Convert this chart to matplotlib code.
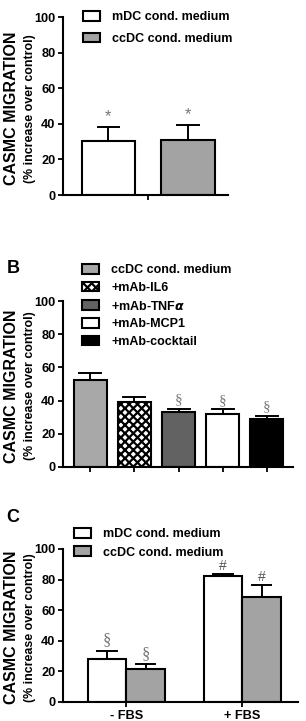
import matplotlib
matplotlib.use("Agg")
import matplotlib.pyplot as plt
from matplotlib.patches import Patch

plt.rcParams['font.family'] = ['Liberation Sans', 'DejaVu Sans']
plt.rcParams['font.weight'] = 'bold'
plt.rcParams['hatch.linewidth'] = 1.6

# panel A
a_labels = ["mDC cond. medium", "ccDC cond. medium"]
a_vals = [30.5, 31.2]
a_err = [8.0, 8.3]
a_colors = ["white", "#a3a3a3"]

# panel B
b_labels = ["ccDC cond. medium", "+mAb-IL6", "+mAb-TNF$\\alpha$", "+mAb-MCP1", "+mAb-cocktail"]
b_vals = [52.7, 39.2, 33.2, 31.8, 29.2]
b_err = [4.0, 3.1, 2.0, 3.0, 1.6]
b_colors = ["#a8a8a8", "white", "#626262", "white", "black"]
b_hatch = [None, "xxxx", None, None, None]
b_marks = ["", "", "§", "§", "§"]

# panel C
c_groups = ["- FBS", "+ FBS"]
c_mdc = [28.4, 82.3]
c_mdc_err = [5.0, 1.3]
c_ccdc = [21.8, 68.3]
c_ccdc_err = [2.9, 7.9]
c_marks_mdc = ["§", "#"]
c_marks_ccdc = ["§", "#"]

fig = plt.figure(figsize=(3.06, 7.21), dpi=100)

leg_kw = dict(frameon=False, fontsize=9, handlelength=1.35, handleheight=0.8,
              handletextpad=1.0, borderpad=0, borderaxespad=0)

def style(ax):
    ax.spines['top'].set_visible(False)
    ax.spines['right'].set_visible(False)
    ax.spines['left'].set_linewidth(1.5)
    ax.spines['bottom'].set_linewidth(1.5)
    ax.set_ylim(0, 100)
    ax.set_yticks([0, 20, 40, 60, 80, 100])
    ax.tick_params(axis='both', width=1.3, length=3.5, labelsize=9.2, pad=2)
    # two-line y label: big bold first line, smaller second line
    bb = ax.get_position()
    yc = (bb.y0 + bb.y1) / 2 - 2 / 721
    fig.text(12 / 306, yc, "CASMC MIGRATION", rotation=90, ha='center', va='center',
             fontsize=11.5, fontweight='bold')
    fig.text(30.5 / 306, yc, "(% increase over control)", rotation=90, ha='center',
             va='center', fontsize=8.9, fontweight='bold')

def errs(ax, x, vals, err, w):
    for xi, v, e in zip(x, vals, err):
        ax.plot([xi, xi], [v, v + e], color='black', lw=1.4, zorder=1)
        ax.plot([xi - w / 2, xi + w / 2], [v + e, v + e], color='black', lw=1.4, zorder=1)

ax_a = fig.add_axes([0.206, 0.7295, 0.539, 0.2465])
style(ax_a)
xa = [0.5, 2.0]
ax_a.bar(xa, a_vals, width=1.0, color=a_colors, edgecolor='black', linewidth=1.5, zorder=2)
errs(ax_a, xa, a_vals, a_err, 0.4)
for xi, v, e in zip(xa, a_vals, a_err):
    ax_a.text(xi, v + e + 1.5, "*", ha='center', va='bottom', fontsize=12, color='#777777',
              fontweight='normal')
ax_a.set_xlim(-0.35, 2.75)
ax_a.set_xticks([1.25])
ax_a.set_xticklabels([""])
ax_a.legend(handles=[Patch(facecolor=c, edgecolor='black', linewidth=1.5, label=l)
                     for c, l in zip(a_colors, a_labels)],
            loc='upper left', bbox_to_anchor=(83 / 306, 1 - 11 / 721),
            bbox_transform=fig.transFigure, labelspacing=0.75, **leg_kw)

ax_b = fig.add_axes([0.206, 0.3523, 0.752, 0.2302])
style(ax_b)
xb = list(range(len(b_vals)))
bars = ax_b.bar(xb, b_vals, width=0.76, color=b_colors, edgecolor='black', linewidth=1.5, zorder=2)
for b, h in zip(bars, b_hatch):
    if h:
        b.set_hatch(h)
errs(ax_b, xb, b_vals, b_err, 0.5)
for xi, v, e, m in zip(xb, b_vals, b_err, b_marks):
    if m:
        ax_b.text(xi, v + e + 1.5, m, ha='center', va='bottom', fontsize=11, color='#777777',
                  family='Liberation Serif', fontweight='normal')
ax_b.set_xlim(-0.62, 4.6)
ax_b.set_xticks(xb)
ax_b.set_xticklabels([""] * len(xb))
ax_b.legend(handles=[Patch(facecolor=c, edgecolor='black', linewidth=1.5, hatch=h, label=l)
                     for c, h, l in zip(b_colors, b_hatch, b_labels)],
            loc='upper left', bbox_to_anchor=(82 / 306, 1 - 264 / 721),
            bbox_transform=fig.transFigure, labelspacing=0.45, **leg_kw)
fig.text(13 / 306, 1 - 268 / 721, "B", fontsize=13, fontweight='bold', ha='center', va='center')

ax_c = fig.add_axes([0.206, 0.0264, 0.768, 0.2122])
style(ax_c)
xc = [0.0, 1.5]
w = 0.5
x1 = [x - w / 2 for x in xc]
x2 = [x + w / 2 for x in xc]
ax_c.bar(x1, c_mdc, width=w, color='white', edgecolor='black', linewidth=1.5, zorder=2,
         label="mDC cond. medium")
ax_c.bar(x2, c_ccdc, width=w, color='#a3a3a3', edgecolor='black', linewidth=1.5, zorder=2,
         label="ccDC cond. medium")
errs(ax_c, x1, c_mdc, c_mdc_err, 0.25)
errs(ax_c, x2, c_ccdc, c_ccdc_err, 0.25)
for xs, vs, es, ms in [(x1, c_mdc, c_mdc_err, c_marks_mdc), (x2, c_ccdc, c_ccdc_err, c_marks_ccdc)]:
    for xi, v, e, m in zip(xs, vs, es, ms):
        if m == "§":
            ax_c.text(xi, v + e + 1.5, m, ha='center', va='bottom', fontsize=12, color='#777777',
                      family='Liberation Serif', fontweight='normal')
        else:
            ax_c.text(xi, v + e + 1, m, ha='center', va='bottom', fontsize=10, color='#555555',
                      fontweight='normal')
ax_c.set_xlim(-0.82, 2.22)
ax_c.set_xticks(xc)
ax_c.set_xticklabels(c_groups)
ax_c.legend(loc='upper left', bbox_to_anchor=(74 / 306, 1 - 528 / 721),
            bbox_transform=fig.transFigure, labelspacing=0.5, **leg_kw)
fig.text(13 / 306, 1 - 517 / 721, "C", fontsize=13, fontweight='bold', ha='center', va='center')

fig.savefig("out.png", dpi=100)
